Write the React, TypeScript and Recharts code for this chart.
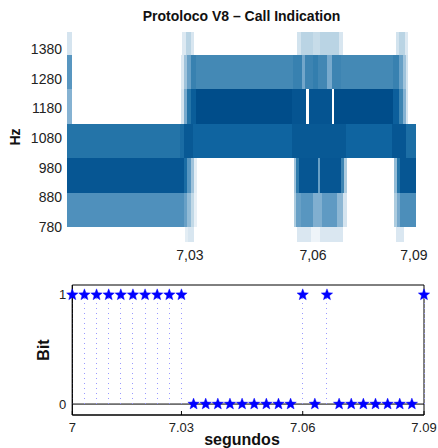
import React from 'react';
import { ComposedChart, XAxis, YAxis, ReferenceArea, ReferenceLine, Scatter } from 'recharts';

// ---- top panel (spectrogram), x in analysis frames ----
const TOP_TICK_FRAMES = [35.2, 70.5, 99.4];
const TOP_TICK_LABELS = ['7,03', '7,06', '7,09'];
const HZ_TICKS = [780, 880, 980, 1080, 1180, 1280, 1380];
const BAND_EDGES = [1437, 1360, 1244, 1128, 1012, 896, 780, 730];

// [frame start, frame end, level 0..1]
const BAND_A = [
  [0, 1.3, 0.15],
  [32.9, 34, 0.12], [34, 35.5, 0.25], [35.5, 36.3, 0.14],
  [65.8, 67, 0.16], [67, 70.5, 0.25], [70.5, 72.5, 0.2], [72.5, 78, 0.25], [78, 79, 0.14],
  [94.3, 95.2, 0.16], [95.2, 96.8, 0.25], [96.8, 97.7, 0.12],
];
const BAND_B = [
  [0, 1.3, 0.6],
  [32.6, 33.5, 0.12], [33.5, 34.5, 0.35], [34.5, 35.5, 0.55], [35.5, 37, 0.72], [37, 64.8, 0.67],
  [64.8, 67.3, 0.72], [67.3, 68.3, 0.52], [68.3, 70.5, 0.7], [70.5, 72, 0.74], [72, 74.5, 0.68],
  [74.5, 75.8, 0.5], [75.8, 78.5, 0.7], [78.5, 93.3, 0.67], [93.3, 95, 0.72], [95, 96.3, 0.55],
  [96.3, 97.2, 0.35], [97.2, 97.8, 0.15],
];
const BAND_C = [
  [0, 1.3, 0.45],
  [32.6, 33.5, 0.15], [33.5, 34.5, 0.5], [34.5, 35.5, 0.8], [35.5, 37, 0.93], [37, 64.5, 1],
  [64.5, 68.6, 0.97], [69.3, 75.9, 0.97], [76.5, 93.3, 1], [93.3, 95, 0.92], [95, 96.3, 0.7],
  [96.3, 97.2, 0.45], [97.2, 97.8, 0.15],
];
const BAND_D = [
  [0, 32.5, 0.8], [32.5, 33.5, 0.85], [33.5, 36, 0.95], [36, 64.5, 0.9], [64.5, 80, 0.95],
  [80, 93, 0.9], [93, 97, 0.96], [97, 100, 0.84],
];
const BAND_E = [
  [0, 33.5, 0.96], [33.5, 34.5, 0.85], [34.5, 35.5, 0.6], [35.5, 36.3, 0.35], [36.3, 37.2, 0.1],
  [64.9, 65.6, 0.35], [65.6, 66.5, 0.75], [66.5, 71.9, 0.96], [71.9, 72.6, 0.55], [72.6, 78.5, 0.96],
  [78.5, 79.4, 0.7], [79.4, 80.1, 0.3],
  [93.8, 94.6, 0.4], [94.6, 95.5, 0.8], [95.5, 100, 0.96],
];
const BAND_F = [
  [0, 33.5, 0.63], [33.5, 34.5, 0.55], [34.5, 35.5, 0.4], [35.5, 36.3, 0.22], [36.3, 37.2, 0.08],
  [64.9, 65.6, 0.3], [65.6, 67, 0.55], [67, 70.5, 0.6], [70.5, 73, 0.47], [73, 77.5, 0.58],
  [77.5, 79, 0.42], [79, 80.1, 0.15],
  [93.8, 94.6, 0.3], [94.6, 95.5, 0.5], [95.5, 100, 0.64],
];
const BAND_G = [
  [33.8, 34.6, 0.1], [34.6, 36.3, 0.14],
  [65.8, 70, 0.13], [70, 72.5, 0.06], [72.5, 79, 0.13],
  [94.3, 96.6, 0.13],
];
const BANDS = [BAND_A, BAND_B, BAND_C, BAND_D, BAND_E, BAND_F, BAND_G];

// ---- bottom panel (decoded bits) ----
const TIMES = [
  7.003, 7.006, 7.009, 7.012, 7.015, 7.018, 7.021, 7.024, 7.027, 7.03,
  7.033, 7.036, 7.039, 7.042, 7.045, 7.048, 7.051, 7.054, 7.057, 7.06,
  7.063, 7.066, 7.069, 7.072, 7.075, 7.078, 7.081, 7.084, 7.087, 7.09,
];
const BITS = [
  1, 1, 1, 1, 1, 1, 1, 1, 1, 1,
  0, 0, 0, 0, 0, 0, 0, 0, 0, 1,
  0, 1, 0, 0, 0, 0, 0, 0, 0, 1,
];
const BOTTOM_TICKS = [7.003, 7.03, 7.06, 7.09];
const BOTTOM_TICK_LABELS = ['7', '7.03', '7.06', '7.09'];
const T_DOMAIN = [7.003, 7.09];
const BIT_DOMAIN = [-0.1, 1.09];

const STOPS: [number, number[]][] = [
  [0, [255, 255, 255]],
  [0.12, [221, 233, 242]],
  [0.25, [186, 212, 228]],
  [0.5, [120, 170, 205]],
  [0.63, [79, 144, 188]],
  [0.67, [68, 137, 181]],
  [0.8, [36, 116, 168]],
  [0.9, [15, 100, 160]],
  [1, [0, 77, 138]],
];

function levelColor(v: number) {
  for (let i = 1; i < STOPS.length; i++) {
    const [b, cb] = STOPS[i];
    const [a, ca] = STOPS[i - 1];
    if (v <= b) {
      const k = (v - a) / (b - a);
      const c = ca.map((x, j) => Math.round(x + (cb[j] - x) * k));
      return `rgb(${c[0]},${c[1]},${c[2]})`;
    }
  }
  return 'rgb(0,77,138)';
}

const Star = (props: any) => {
  const { cx, cy } = props;
  const pts: string[] = [];
  for (let k = 0; k < 10; k++) {
    const r = k % 2 === 0 ? 6 : 2.6;
    const a = -Math.PI / 2 + (k * Math.PI) / 5;
    pts.push(`${cx + r * Math.cos(a)},${cy + r * Math.sin(a)}`);
  }
  return <polygon points={pts.join(' ')} fill="#0000ff" stroke="#0000ff" strokeWidth={0.4} />;
};

const NoMark = () => <g />;

const font = '"Liberation Sans", Arial, Helvetica, sans-serif';

export default function App() {
  const bitRows = TIMES.map((t, i) => ({ t, bit: BITS[i] }));

  const cells: any[] = [];
  BANDS.forEach((band, b) => {
    band.forEach(([x1, x2, v], i) => {
      cells.push({ key: `${b}-${i}`, x1, x2, y1: BAND_EDGES[b + 1], y2: BAND_EDGES[b], fill: levelColor(v) });
    });
  });
  const cellCentres = cells.map((c) => ({ f: (c.x1 + c.x2) / 2, hz: (c.y1 + c.y2) / 2 }));

  return (
    <div style={{ position: 'absolute', left: 0, top: 0, width: 438, height: 448, background: '#fff', fontFamily: font }}>
      <div style={{ position: 'absolute', left: 241.5, top: 8, transform: 'translateX(-50%)', fontSize: 14, fontWeight: 'bold', lineHeight: '16px', whiteSpace: 'nowrap', color: '#111' }}>
        Protoloco V8 – Call Indication
      </div>
      <div style={{ position: 'absolute', left: 15, top: 137, transform: 'translate(-50%,-50%) rotate(-90deg)', fontSize: 14, fontWeight: 'bold', lineHeight: '16px', color: '#111' }}>
        Hz
      </div>
      <div style={{ position: 'absolute', left: 44, top: 350, transform: 'translate(-50%,-50%) rotate(-90deg)', fontSize: 16, fontWeight: 'bold', lineHeight: '18px', color: '#111' }}>
        Bit
      </div>
      <div style={{ position: 'absolute', left: 242, top: 431, transform: 'translateX(-50%)', fontSize: 16, fontWeight: 'bold', lineHeight: '18px', whiteSpace: 'nowrap', color: '#111' }}>
        segundos
      </div>

      <div style={{ position: 'absolute', left: 0, top: 0 }}>
        <ComposedChart width={438} height={265} margin={{ top: 32, right: 0, bottom: 0, left: 0 }} data={cellCentres}>
          <XAxis
            type="number"
            dataKey="f"
            domain={[0, 100]}
            ticks={TOP_TICK_FRAMES}
            interval={0}
            tickFormatter={(v: number, i: number) => TOP_TICK_LABELS[i]}
            axisLine={false}
            tickLine={false}
            height={23}
            tick={{ fontSize: 14, fill: '#222', fontFamily: font }}
          />
          <YAxis
            yAxisId="hz"
            type="number"
            domain={[730, 1437]}
            ticks={HZ_TICKS}
            interval={0}
            width={67}
            axisLine={false}
            tickLine={false}
            tickSize={3}
            tickMargin={2}
            tick={{ fontSize: 14, fill: '#222', fontFamily: font }}
          />
          <YAxis
            yAxisId="hzr"
            orientation="right"
            type="number"
            domain={[730, 1437]}
            ticks={HZ_TICKS}
            interval={0}
            width={22}
            axisLine={false}
            tickSize={2}
            tickLine={{ stroke: '#777' }}
            tickFormatter={() => ''}
          />
          {cells.map((c) => (
            <ReferenceArea
              key={c.key}
              yAxisId="hz"
              x1={c.x1}
              x2={c.x2}
              y1={c.y1}
              y2={c.y2}
              fill={c.fill}
              fillOpacity={1}
              stroke="none"
              shapeRendering="crispEdges"
              ifOverflow="visible"
            />
          ))}
          <Scatter yAxisId="hz" dataKey="hz" shape={<NoMark />} isAnimationActive={false} />
        </ComposedChart>
      </div>

      <div style={{ position: 'absolute', left: 0, top: 270 }}>
        <ComposedChart width={438} height={178} margin={{ top: 15, right: 14, bottom: 0, left: 0 }} data={bitRows}>
          <XAxis
            type="number"
            dataKey="t"
            domain={T_DOMAIN}
            ticks={BOTTOM_TICKS}
            interval={0}
            tickFormatter={(v: number, i: number) => BOTTOM_TICK_LABELS[i]}
            height={33}
            axisLine={{ stroke: '#000' }}
            tickLine={{ stroke: '#000' }}
            tickSize={-4}
            tickMargin={12}
            tick={{ fontSize: 13, fill: '#222', fontFamily: font }}
          />
          <YAxis
            type="number"
            domain={BIT_DOMAIN}
            ticks={[0, 1]}
            interval={0}
            width={72.3}
            axisLine={{ stroke: '#000' }}
            tickLine={false}
            tickSize={4}
            tickMargin={2}
            tick={{ fontSize: 13, fill: '#222', fontFamily: font }}
          />
          <ReferenceArea
            x1={T_DOMAIN[0]}
            x2={T_DOMAIN[1]}
            y1={BIT_DOMAIN[0]}
            y2={BIT_DOMAIN[1]}
            fill="none"
            stroke="#000"
            strokeWidth={1}
            ifOverflow="visible"
          />
          <ReferenceLine y={0} stroke="#000" strokeWidth={1} />
          {bitRows.filter((r) => r.bit === 1).map((r) => (
            <ReferenceLine
              key={r.t}
              segment={[{ x: r.t, y: 0 }, { x: r.t, y: r.bit }]}
              stroke="#9a9aff"
              strokeWidth={1}
              strokeDasharray="1 4"
              shapeRendering="crispEdges"
              ifOverflow="visible"
            />
          ))}
          <Scatter dataKey="bit" shape={<Star />} isAnimationActive={false} />
        </ComposedChart>
      </div>
    </div>
  );
}
